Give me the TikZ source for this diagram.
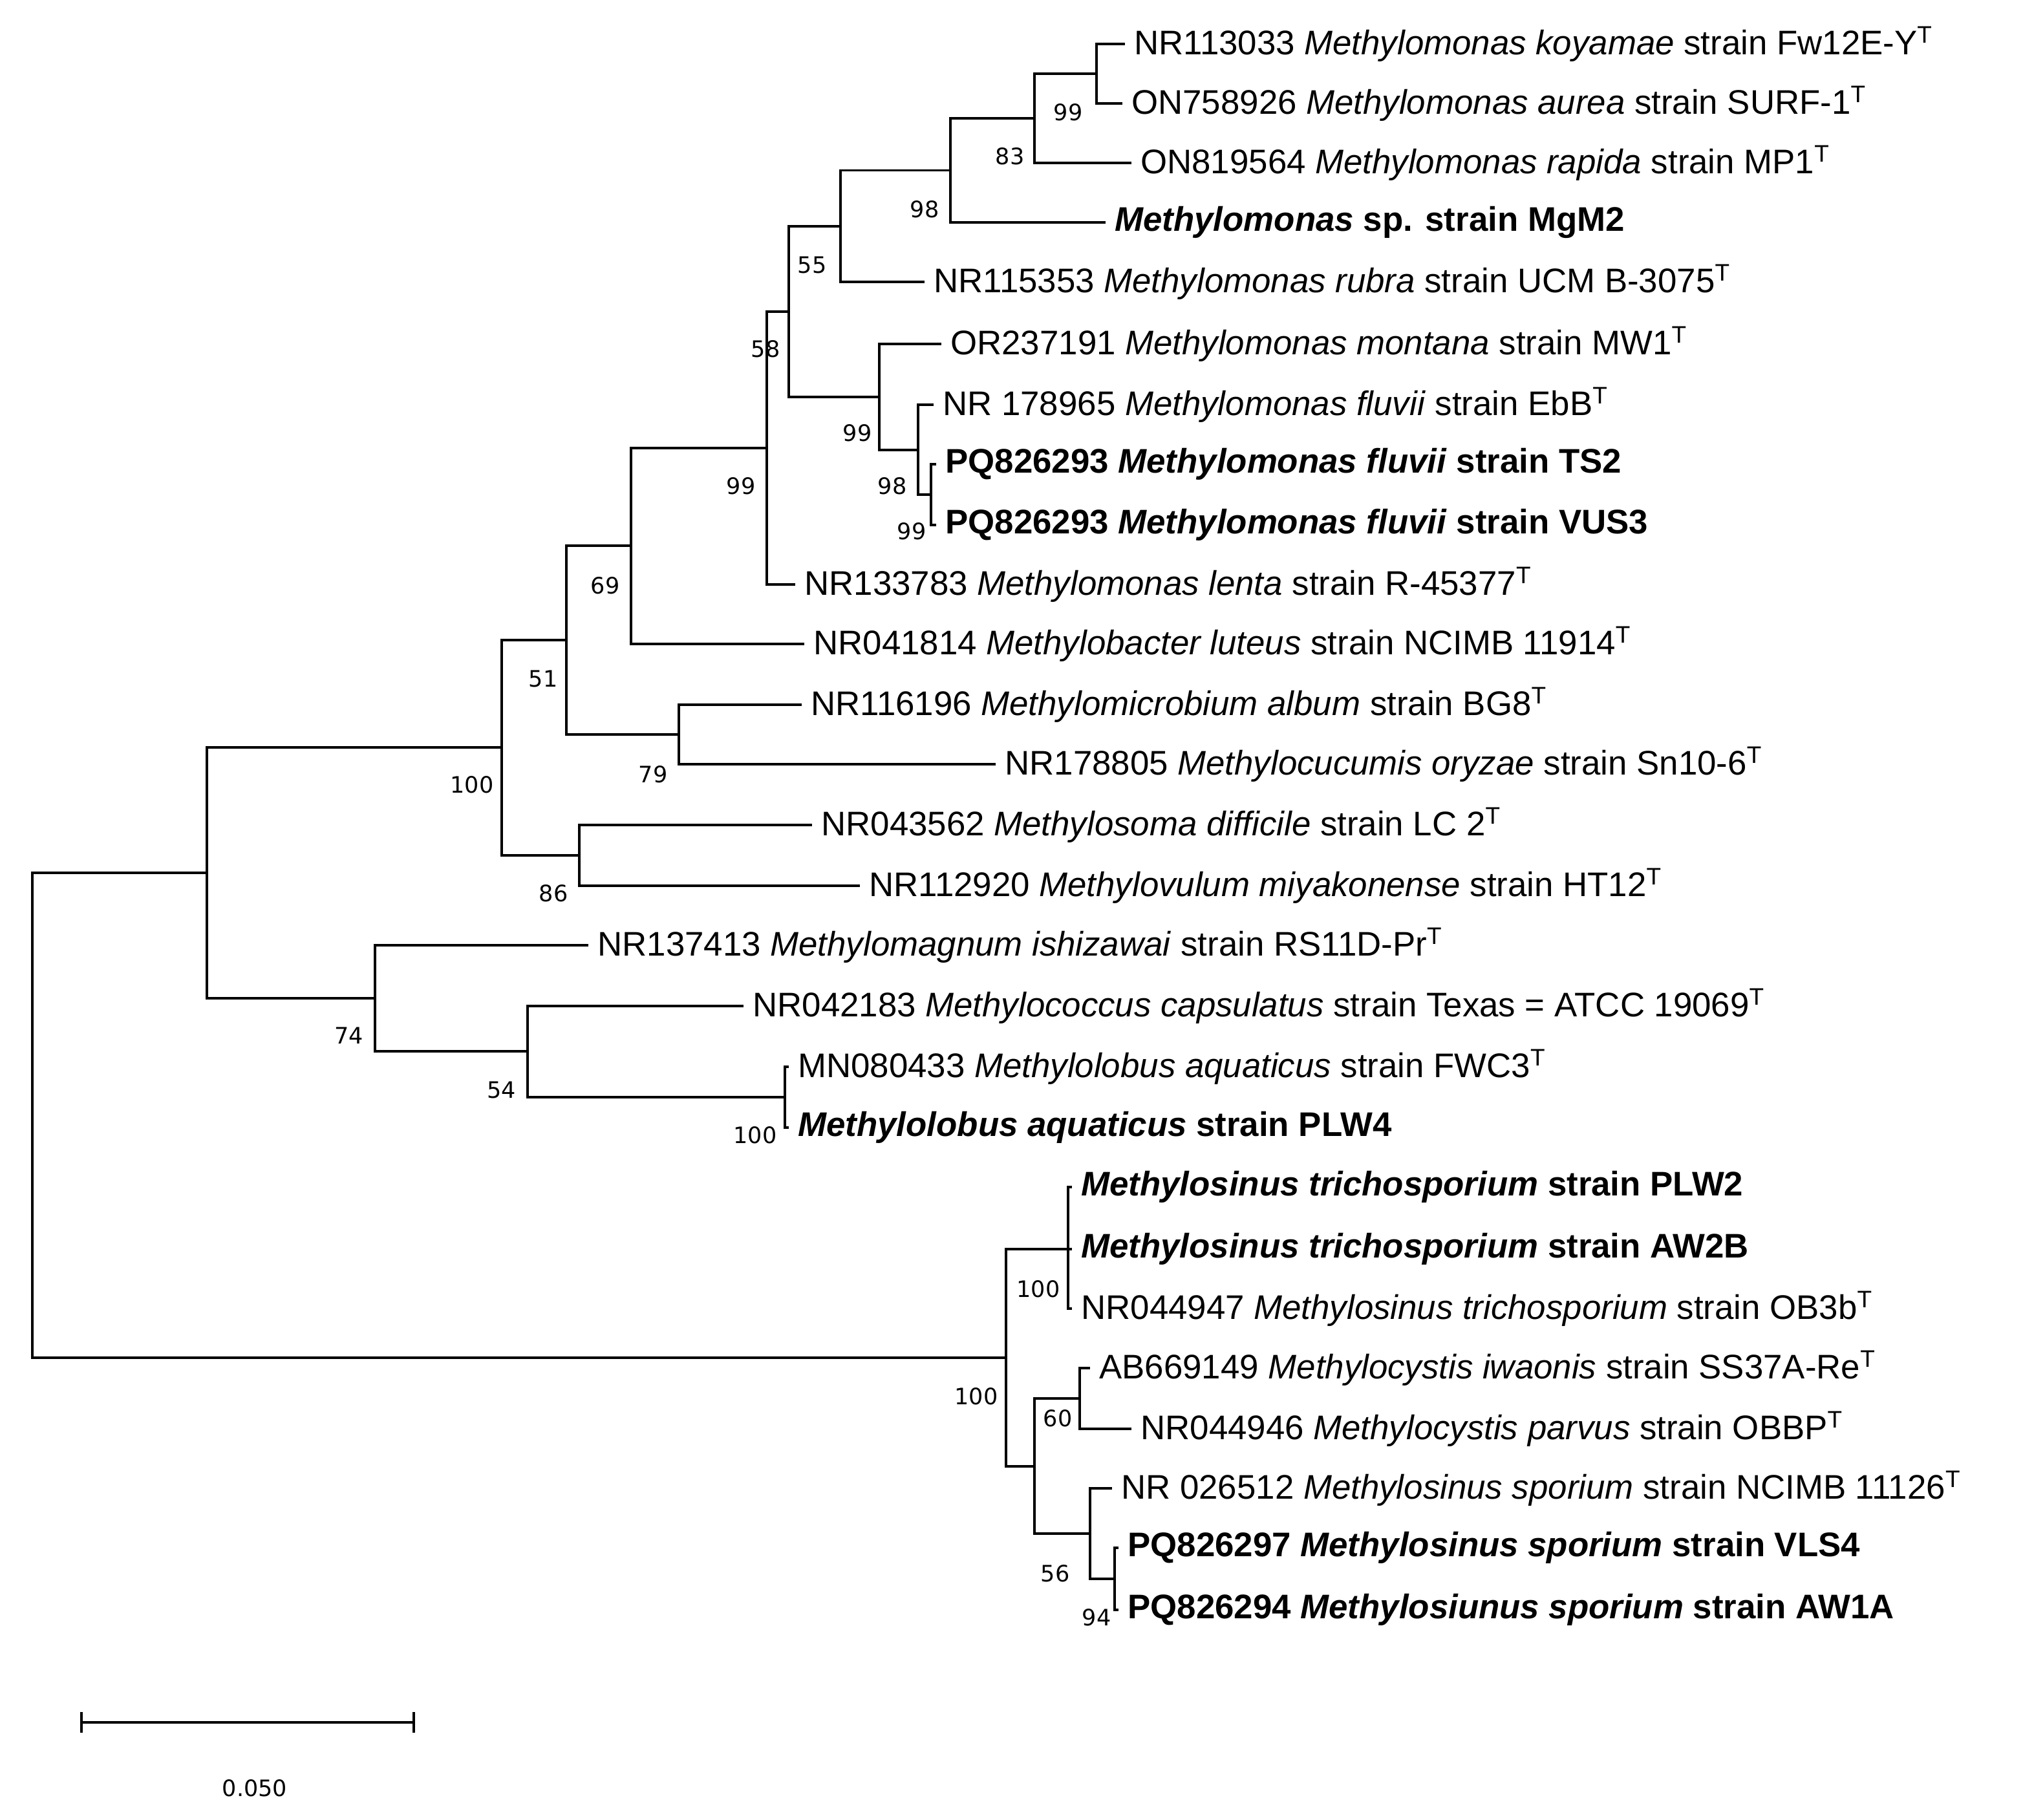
\documentclass[tikz,border=0pt]{standalone}
\usepackage{fontspec}
\setmainfont{Liberation Sans}
\newfontfamily\bsfont{DejaVu Sans}
\begin{document}
\begin{tikzpicture}[x=1pt,y=-1pt,
  br/.style={line width=1.8pt},
  lf/.style={anchor=west,inner sep=0pt,xshift=7pt,font=\fontsize{26.4}{30}\selectfont},
  bs/.style={inner sep=0pt,font=\bsfont\fontsize{17.5}{20}\selectfont}]
\useasboundingbox (0,0) rectangle (1564.5,1407.5);
% internal nodes
\coordinate (R) at (25,862);
\coordinate (A) at (160,675);
\coordinate (B) at (388,578);
\coordinate (C) at (438,495);
\coordinate (E) at (488,422);
\coordinate (G) at (593,346.5);
\coordinate (H) at (610,241);
\coordinate (I) at (650,175);
\coordinate (K) at (735,131.75);
\coordinate (L) at (800,91.5);
\coordinate (N) at (848,57);
\coordinate (J) at (680,307);
\coordinate (P) at (710,348);
\coordinate (Q) at (720,382.5);
\coordinate (F) at (525,568);
\coordinate (D) at (448,661.5);
\coordinate (M) at (290,772);
\coordinate (O) at (408,813);
\coordinate (Pn) at (607,848.5);
\coordinate (S) at (778,1050);
\coordinate (T) at (826,966);
\coordinate (U) at (800,1134);
\coordinate (V) at (835,1081.5);
\coordinate (W) at (843,1186);
\coordinate (X) at (862,1221);
% leaf ends
\coordinate (e1) at (870,34);
\coordinate (e2) at (868,80);
\coordinate (e3) at (875,126);
\coordinate (e4) at (855,172);
\coordinate (e5) at (715,218);
\coordinate (e6) at (728,266);
\coordinate (e7) at (722,313);
\coordinate (e8) at (724,359);
\coordinate (e9) at (724,406);
\coordinate (e10) at (615,452);
\coordinate (e11) at (622,498);
\coordinate (e12) at (620,545);
\coordinate (e13) at (770,591);
\coordinate (e14) at (628,638);
\coordinate (e15) at (665,685);
\coordinate (e16) at (455,731);
\coordinate (e17) at (575,778);
\coordinate (e18) at (610,825);
\coordinate (e19) at (610,872);
\coordinate (e20) at (829,918);
\coordinate (e21) at (829,966);
\coordinate (e22) at (829,1012);
\coordinate (e23) at (843,1058);
\coordinate (e24) at (875,1105);
\coordinate (e25) at (860,1151);
\coordinate (e26) at (865,1197);
\coordinate (e27) at (865,1245);
% branches
\draw[br] (R) |- (A); \draw[br] (R) |- (S);
\draw[br] (A) |- (B); \draw[br] (A) |- (M);
\draw[br] (B) |- (C); \draw[br] (B) |- (D);
\draw[br] (C) |- (E); \draw[br] (C) |- (F);
\draw[br] (E) |- (G); \draw[br] (E) |- (e11);
\draw[br] (G) |- (H); \draw[br] (G) |- (e10);
\draw[br] (H) |- (I); \draw[br] (H) |- (J);
\draw[br] (I) |- (K); \draw[br] (I) |- (e5);
\draw[br] (K) |- (L); \draw[br] (K) |- (e4);
\draw[br] (L) |- (N); \draw[br] (L) |- (e3);
\draw[br] (N) |- (e1); \draw[br] (N) |- (e2);
\draw[br] (J) |- (e6); \draw[br] (J) |- (P);
\draw[br] (P) |- (e7); \draw[br] (P) |- (Q);
\draw[br] (Q) |- (e8); \draw[br] (Q) |- (e9);
\draw[br] (F) |- (e12); \draw[br] (F) |- (e13);
\draw[br] (D) |- (e14); \draw[br] (D) |- (e15);
\draw[br] (M) |- (e16); \draw[br] (M) |- (O);
\draw[br] (O) |- (e17); \draw[br] (O) |- (Pn);
\draw[br] (Pn) |- (e18); \draw[br] (Pn) |- (e19);
\draw[br] (S) |- (T); \draw[br] (S) |- (U);
\draw[br] (T) |- (e20); \draw[br] (T) |- (e21); \draw[br] (T) |- (e22);
\draw[br] (U) |- (V); \draw[br] (U) |- (W);
\draw[br] (V) |- (e23); \draw[br] (V) |- (e24);
\draw[br] (W) |- (e25); \draw[br] (W) |- (X);
\draw[br] (X) |- (e26); \draw[br] (X) |- (e27);
% leaf labels
\node[lf] (t1) at (e1) {NR113033 \textit{Methylomonas koyamae} strain Fw12E-Y\textsuperscript{T}};
\node[lf] (t2) at (e2) {ON758926 \textit{Methylomonas aurea} strain SURF-1\textsuperscript{T}};
\node[lf] (t3) at (e3) {ON819564 \textit{Methylomonas rapida} strain MP1\textsuperscript{T}};
\node[lf] (t4) at (e4) {\bfseries\textit{Methylomonas} sp. strain MgM2};
\node[lf] (t5) at (e5) {NR115353 \textit{Methylomonas rubra} strain UCM B-3075\textsuperscript{T}};
\node[lf] (t6) at (e6) {OR237191 \textit{Methylomonas montana} strain MW1\textsuperscript{T}};
\node[lf] (t7) at (e7) {NR 178965 \textit{Methylomonas fluvii} strain EbB\textsuperscript{T}};
\node[lf] (t8) at (e8) {\bfseries PQ826293 \textit{Methylomonas fluvii} strain TS2};
\node[lf] (t9) at (e9) {\bfseries PQ826293 \textit{Methylomonas fluvii} strain VUS3};
\node[lf] (t10) at (e10) {NR133783 \textit{Methylomonas lenta} strain R-45377\textsuperscript{T}};
\node[lf] (t11) at (e11) {NR041814 \textit{Methylobacter luteus} strain NCIMB 11914\textsuperscript{T}};
\node[lf] (t12) at (e12) {NR116196 \textit{Methylomicrobium album} strain BG8\textsuperscript{T}};
\node[lf] (t13) at (e13) {NR178805 \textit{Methylocucumis oryzae} strain Sn10-6\textsuperscript{T}};
\node[lf] (t14) at (e14) {NR043562 \textit{Methylosoma difficile} strain LC 2\textsuperscript{T}};
\node[lf] (t15) at (e15) {NR112920 \textit{Methylovulum miyakonense} strain HT12\textsuperscript{T}};
\node[lf] (t16) at (e16) {NR137413 \textit{Methylomagnum ishizawai} strain RS11D-Pr\textsuperscript{T}};
\node[lf] (t17) at (e17) {NR042183 \textit{Methylococcus capsulatus} strain Texas = ATCC 19069\textsuperscript{T}};
\node[lf] (t18) at (e18) {MN080433 \textit{Methylolobus aquaticus} strain FWC3\textsuperscript{T}};
\node[lf] (t19) at (e19) {\bfseries\textit{Methylolobus aquaticus} strain PLW4};
\node[lf] (t20) at (e20) {\bfseries\textit{Methylosinus trichosporium} strain PLW2};
\node[lf] (t21) at (e21) {\bfseries\textit{Methylosinus trichosporium} strain AW2B};
\node[lf] (t22) at (e22) {NR044947 \textit{Methylosinus trichosporium} strain OB3b\textsuperscript{T}};
\node[lf] (t23) at (e23) {AB669149 \textit{Methylocystis iwaonis} strain SS37A-Re\textsuperscript{T}};
\node[lf] (t24) at (e24) {NR044946 \textit{Methylocystis parvus} strain OBBP\textsuperscript{T}};
\node[lf] (t25) at (e25) {NR 026512 \textit{Methylosinus sporium} strain NCIMB 11126\textsuperscript{T}};
\node[lf] (t26) at (e26) {\bfseries PQ826297 \textit{Methylosinus sporium} strain VLS4};
\node[lf] (t27) at (e27) {\bfseries PQ826294 \textit{Methylosiunus sporium} strain AW1A};
% bootstrap values
\node[bs] (b1) at (826,87) {99};
\node[bs] (b2) at (781,121) {83};
\node[bs] (b3) at (715,162) {98};
\node[bs] (b4) at (628,205) {55};
\node[bs] (b5) at (592,270) {58};
\node[bs] (b6) at (663,335) {99};
\node[bs] (b7) at (690,376) {98};
\node[bs] (b8) at (705,411) {99};
\node[bs] (b9) at (573,376) {99};
\node[bs] (b10) at (468,453) {69};
\node[bs] (b11) at (420,525) {51};
\node[bs] (b12) at (505,599) {79};
\node[bs] (b13) at (365,607) {100};
\node[bs] (b14) at (428,691) {86};
\node[bs] (b15) at (270,801) {74};
\node[bs] (b16) at (388,843) {54};
\node[bs] (b17) at (584,878) {100};
\node[bs] (b18) at (803,997) {100};
\node[bs] (b19) at (755,1080) {100};
\node[bs] (b20) at (818,1097) {60};
\node[bs] (b21) at (816,1217) {56};
\node[bs] (b22) at (848,1251) {94};
% scale bar
\coordinate (s1) at (63,1332);
\coordinate (s2) at (320,1332);
\draw[br] (s1) -- (s2);
\draw[br] ([yshift=-8pt]s1) -- ([yshift=8pt]s1);
\draw[br] ([yshift=-8pt]s2) -- ([yshift=8pt]s2);
\node[bs] (sl) at (197,1383) {0.050};
\end{tikzpicture}
\end{document}
